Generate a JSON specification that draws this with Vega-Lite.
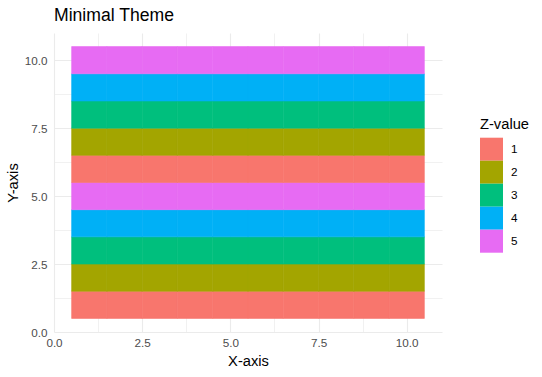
{
  "$schema": "https://vega.github.io/schema/vega-lite/v6.json",
  "width": 388,
  "height": 299,
  "autosize": {"type": "none"},
  "padding": {"left": 54, "top": 33, "right": 100, "bottom": 45},
  "background": "white",
  "title": {
    "text": "Minimal Theme",
    "anchor": "start",
    "frame": "group",
    "font": "Liberation Sans",
    "fontSize": 17.6,
    "fontWeight": "normal",
    "color": "black",
    "offset": 8
  },
  "config": {
    "view": {"stroke": null},
    "font": "Liberation Sans"
  },
  "data": {
    "values": [
      {"x":1,"y":1,"z":"1"},{"x":2,"y":1,"z":"1"},{"x":3,"y":1,"z":"1"},{"x":4,"y":1,"z":"1"},{"x":5,"y":1,"z":"1"},{"x":6,"y":1,"z":"1"},{"x":7,"y":1,"z":"1"},{"x":8,"y":1,"z":"1"},{"x":9,"y":1,"z":"1"},{"x":10,"y":1,"z":"1"},
      {"x":1,"y":2,"z":"2"},{"x":2,"y":2,"z":"2"},{"x":3,"y":2,"z":"2"},{"x":4,"y":2,"z":"2"},{"x":5,"y":2,"z":"2"},{"x":6,"y":2,"z":"2"},{"x":7,"y":2,"z":"2"},{"x":8,"y":2,"z":"2"},{"x":9,"y":2,"z":"2"},{"x":10,"y":2,"z":"2"},
      {"x":1,"y":3,"z":"3"},{"x":2,"y":3,"z":"3"},{"x":3,"y":3,"z":"3"},{"x":4,"y":3,"z":"3"},{"x":5,"y":3,"z":"3"},{"x":6,"y":3,"z":"3"},{"x":7,"y":3,"z":"3"},{"x":8,"y":3,"z":"3"},{"x":9,"y":3,"z":"3"},{"x":10,"y":3,"z":"3"},
      {"x":1,"y":4,"z":"4"},{"x":2,"y":4,"z":"4"},{"x":3,"y":4,"z":"4"},{"x":4,"y":4,"z":"4"},{"x":5,"y":4,"z":"4"},{"x":6,"y":4,"z":"4"},{"x":7,"y":4,"z":"4"},{"x":8,"y":4,"z":"4"},{"x":9,"y":4,"z":"4"},{"x":10,"y":4,"z":"4"},
      {"x":1,"y":5,"z":"5"},{"x":2,"y":5,"z":"5"},{"x":3,"y":5,"z":"5"},{"x":4,"y":5,"z":"5"},{"x":5,"y":5,"z":"5"},{"x":6,"y":5,"z":"5"},{"x":7,"y":5,"z":"5"},{"x":8,"y":5,"z":"5"},{"x":9,"y":5,"z":"5"},{"x":10,"y":5,"z":"5"},
      {"x":1,"y":6,"z":"1"},{"x":2,"y":6,"z":"1"},{"x":3,"y":6,"z":"1"},{"x":4,"y":6,"z":"1"},{"x":5,"y":6,"z":"1"},{"x":6,"y":6,"z":"1"},{"x":7,"y":6,"z":"1"},{"x":8,"y":6,"z":"1"},{"x":9,"y":6,"z":"1"},{"x":10,"y":6,"z":"1"},
      {"x":1,"y":7,"z":"2"},{"x":2,"y":7,"z":"2"},{"x":3,"y":7,"z":"2"},{"x":4,"y":7,"z":"2"},{"x":5,"y":7,"z":"2"},{"x":6,"y":7,"z":"2"},{"x":7,"y":7,"z":"2"},{"x":8,"y":7,"z":"2"},{"x":9,"y":7,"z":"2"},{"x":10,"y":7,"z":"2"},
      {"x":1,"y":8,"z":"3"},{"x":2,"y":8,"z":"3"},{"x":3,"y":8,"z":"3"},{"x":4,"y":8,"z":"3"},{"x":5,"y":8,"z":"3"},{"x":6,"y":8,"z":"3"},{"x":7,"y":8,"z":"3"},{"x":8,"y":8,"z":"3"},{"x":9,"y":8,"z":"3"},{"x":10,"y":8,"z":"3"},
      {"x":1,"y":9,"z":"4"},{"x":2,"y":9,"z":"4"},{"x":3,"y":9,"z":"4"},{"x":4,"y":9,"z":"4"},{"x":5,"y":9,"z":"4"},{"x":6,"y":9,"z":"4"},{"x":7,"y":9,"z":"4"},{"x":8,"y":9,"z":"4"},{"x":9,"y":9,"z":"4"},{"x":10,"y":9,"z":"4"},
      {"x":1,"y":10,"z":"5"},{"x":2,"y":10,"z":"5"},{"x":3,"y":10,"z":"5"},{"x":4,"y":10,"z":"5"},{"x":5,"y":10,"z":"5"},{"x":6,"y":10,"z":"5"},{"x":7,"y":10,"z":"5"},{"x":8,"y":10,"z":"5"},{"x":9,"y":10,"z":"5"},{"x":10,"y":10,"z":"5"}
    ]
  },
  "transform": [
    {"calculate": "datum.x - 0.5", "as": "x0"},
    {"calculate": "datum.x + 0.5", "as": "x1"},
    {"calculate": "datum.y - 0.5", "as": "y0"},
    {"calculate": "datum.y + 0.5", "as": "y1"}
  ],
  "mark": {"type": "rect", "strokeWidth": 0.6, "strokeJoin": "miter"},
  "encoding": {
    "x": {
      "field": "x0",
      "type": "quantitative",
      "scale": {"domain": [0, 11], "nice": false, "zero": false},
      "axis": {
        "title": "X-axis",
        "values": [0, 1.25, 2.5, 3.75, 5, 6.25, 7.5, 8.75, 10],
        "labelExpr": "datum.value % 2.5 == 0 ? format(datum.value, '.1f') : ''",
        "domain": false,
        "ticks": false,
        "grid": true,
        "gridColor": "#ebebeb",
        "gridWidth": {"condition": {"test": "datum.value % 2.5 == 0", "value": 1.1}, "value": 0.7},
        "labelFont": "Liberation Sans",
        "labelFontSize": 11.7,
        "labelColor": "#4d4d4d",
        "labelPadding": 5,
        "labelFlush": false,
        "labelOverlap": false,
        "titleFont": "Liberation Sans",
        "titleFontSize": 14.7,
        "titleFontWeight": "normal",
        "titleColor": "black",
        "titlePadding": 5
      }
    },
    "x2": {"field": "x1"},
    "y": {
      "field": "y0",
      "type": "quantitative",
      "scale": {"domain": [0, 11], "nice": false, "zero": false},
      "axis": {
        "title": "Y-axis",
        "values": [0, 1.25, 2.5, 3.75, 5, 6.25, 7.5, 8.75, 10],
        "labelExpr": "datum.value % 2.5 == 0 ? format(datum.value, '.1f') : ''",
        "domain": false,
        "ticks": false,
        "grid": true,
        "gridColor": "#ebebeb",
        "gridWidth": {"condition": {"test": "datum.value % 2.5 == 0", "value": 1.1}, "value": 0.7},
        "labelFont": "Liberation Sans",
        "labelFontSize": 11.7,
        "labelColor": "#4d4d4d",
        "labelPadding": 7,
        "labelFlush": false,
        "labelOverlap": false,
        "titleFont": "Liberation Sans",
        "titleFontSize": 14.7,
        "titleFontWeight": "normal",
        "titleColor": "black",
        "titlePadding": 4
      }
    },
    "y2": {"field": "y1"},
    "stroke": {
      "field": "z",
      "type": "nominal",
      "scale": {
        "domain": ["1", "2", "3", "4", "5"],
        "range": ["#F8766D", "#A3A500", "#00BF7D", "#00B0F6", "#E76BF3"]
      },
      "legend": null
    },
    "color": {
      "field": "z",
      "type": "nominal",
      "scale": {
        "domain": ["1", "2", "3", "4", "5"],
        "range": ["#F8766D", "#A3A500", "#00BF7D", "#00B0F6", "#E76BF3"]
      },
      "legend": {
        "title": "Z-value",
        "orient": "none",
        "legendX": 426,
        "legendY": 84,
        "symbolType": "square",
        "symbolSize": 529,
        "symbolStrokeWidth": 0,
        "symbolOpacity": 1,
        "rowPadding": 0,
        "labelOffset": 8,
        "labelFont": "Liberation Sans",
        "labelFontSize": 11.7,
        "labelColor": "black",
        "titleFont": "Liberation Sans",
        "titleFontSize": 14.7,
        "titleFontWeight": "normal",
        "titleColor": "black",
        "titlePadding": 6
      }
    }
  }
}
